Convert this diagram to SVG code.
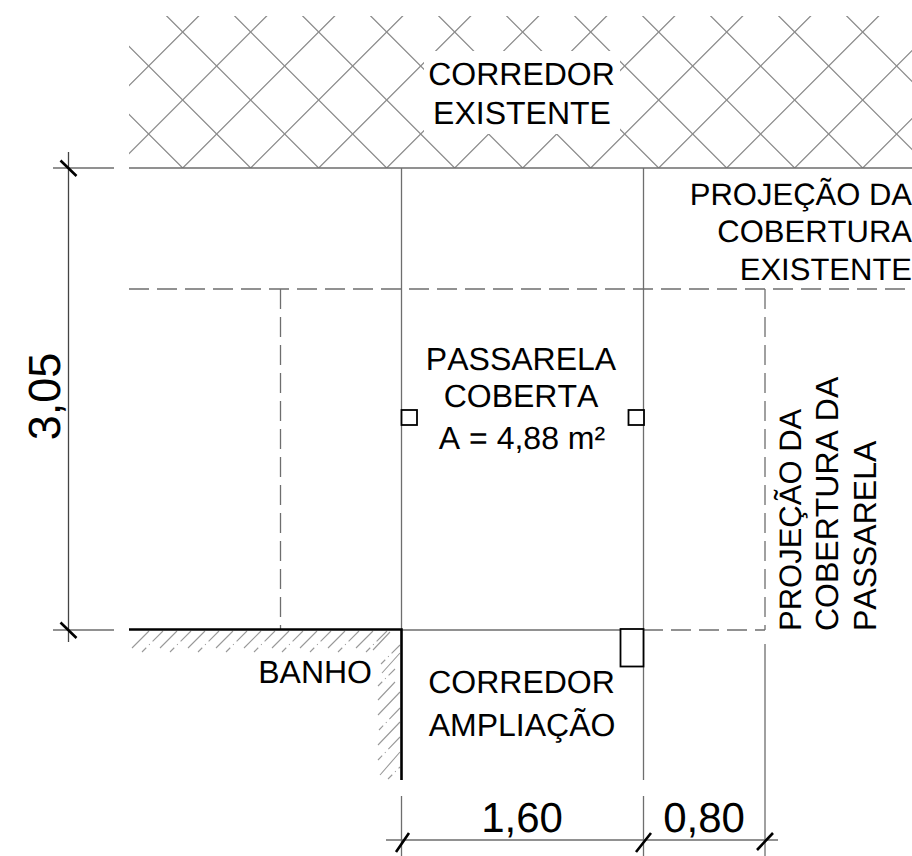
<svg xmlns="http://www.w3.org/2000/svg" width="912" height="856" viewBox="0 0 912 856">
<style>
text{font-family:"Liberation Sans",Arial,sans-serif;fill:#000;text-rendering:geometricPrecision;font-kerning:none}
.t{font-size:32px}
.r{font-size:31px}
.d{font-size:42px}
.h{stroke:#8c8c8c;stroke-width:1.3;fill:none}
.l{stroke:#6e6e6e;stroke-width:1.3;fill:none}
.n{stroke:#444;stroke-width:1.3;fill:none}
.da{stroke:#6e6e6e;stroke-width:1.3;fill:none;stroke-dasharray:20 8}
.w{stroke:#000;stroke-width:2.6;fill:none}
.k{stroke:#000;stroke-width:2.6;fill:none}
.o{stroke:#000;stroke-width:1.8;fill:#fff}
.s{stroke:#999;stroke-width:1.1;fill:none}
.m{stroke:#999;stroke-width:1.1;fill:none;stroke-dasharray:6 4 1 4 30}
</style>
<defs>
<clipPath id="hc"><path clip-rule="evenodd" d="M129 16H912V168H129ZM424 51H620V134H424Z"/></clipPath>
</defs>
<g id="hatch-corredor" clip-path="url(#hc)" class="h">
<path d="M14.700 0L214.700 200M82.700 0L282.700 200M150.700 0L350.700 200M218.700 0L418.700 200M286.700 0L486.700 200M354.700 0L554.700 200M422.700 0L622.700 200M490.700 0L690.700 200M558.700 0L758.700 200M626.700 0L826.700 200M694.700 0L894.700 200M762.700 0L962.700 200M830.700 0L1030.700 200M898.700 0L1098.700 200M-53.300 0L146.700 200"/>
<path d="M214.700 0L14.700 200M282.700 0L82.700 200M350.700 0L150.700 200M418.700 0L218.700 200M486.700 0L286.700 200M554.700 0L354.700 200M622.700 0L422.700 200M690.700 0L490.700 200M758.700 0L558.700 200M826.700 0L626.700 200M894.700 0L694.700 200M962.700 0L762.700 200M1030.700 0L830.700 200"/>
</g>
<g id="hatch-parede">
<path class="s" d="M132 648L149 631M160 648L177 631M188 648L205 631M216 648L233 631M244 648L261 631M272 648L289 631M300 648L317 631M328 648L345 631M356 648L373 631M373 650L390 632M382 673L400 653M378 700L395 682M378 715L400 692M378 745L400 722M380 775L400 752"/>
<path class="m" d="M142 652L163 631M170 652L191 631M198 652L219 631M226 652L247 631M254 652L275 631M282 652L303 631M310 652L331 631M338 652L359 631M366 652L387 631M381 664L400 645M378 686L395 669M379 730L400 708M378 760L400 737M388 779L400 767"/>
</g>
<g id="connectors">
<path class="l" d="M53 168H114M129 168H912M53 630H114M401 630H643M386 840H778"/>
<path class="n" d="M68.500 152V642"/>
<path class="da" d="M129 289H912M280.500 289V629M765 289V630M643 630H765"/>
<path class="l" d="M401.500 168V629M643.500 168V780M643.500 796V856M401.500 796V856M765 644V856"/>
<path class="w" d="M129 629.500H401.500V780"/>
<path class="k" d="M60.500 160.500L76.500 176M60.500 622.500L76.500 638M396 852L409 833M636 852L651 833M757 850L773 833"/>
</g>
<g id="pilar-1"><rect class="o" x="401.500" y="410" width="15.500" height="15"/></g>
<g id="pilar-2"><rect class="o" x="628.500" y="410" width="15.500" height="15"/></g>
<g id="pilar-3"><rect class="o" x="620.500" y="629" width="23" height="37.500"/></g>
<g id="labels">
<text class="t" x="521.500" y="85" text-anchor="middle">CORREDOR</text>
<text class="t" x="522" y="124" text-anchor="middle">EXISTENTE</text>
<text class="r" x="912" y="205" text-anchor="end">PROJEÇÃO DA</text>
<text class="r" x="912" y="242" text-anchor="end">COBERTURA</text>
<text class="r" x="912" y="280" text-anchor="end">EXISTENTE</text>
<text class="t" x="521" y="370" text-anchor="middle">PASSARELA</text>
<text class="t" x="521" y="407" text-anchor="middle">COBERTA</text>
<text class="t" x="522" y="449" text-anchor="middle">A = 4,88 m²</text>
<text class="t" x="372" y="683" text-anchor="end">BANHO</text>
<text class="t" x="521.500" y="693" text-anchor="middle">CORREDOR</text>
<text class="t" x="522" y="736" text-anchor="middle">AMPLIAÇÃO</text>
<text class="r" transform="translate(801 631) rotate(-90)">PROJEÇÃO DA</text>
<text class="t" transform="translate(838 631) rotate(-90)">COBERTURA DA</text>
<text class="t" transform="translate(876 631) rotate(-90)">PASSARELA</text>
<text class="d" x="522" y="832" text-anchor="middle">1,60</text>
<text class="d" x="704" y="832" text-anchor="middle">0,80</text>
<text style="font-size:45px" transform="translate(60 396.500) rotate(-90)" text-anchor="middle">3,05</text>
</g>
</svg>
